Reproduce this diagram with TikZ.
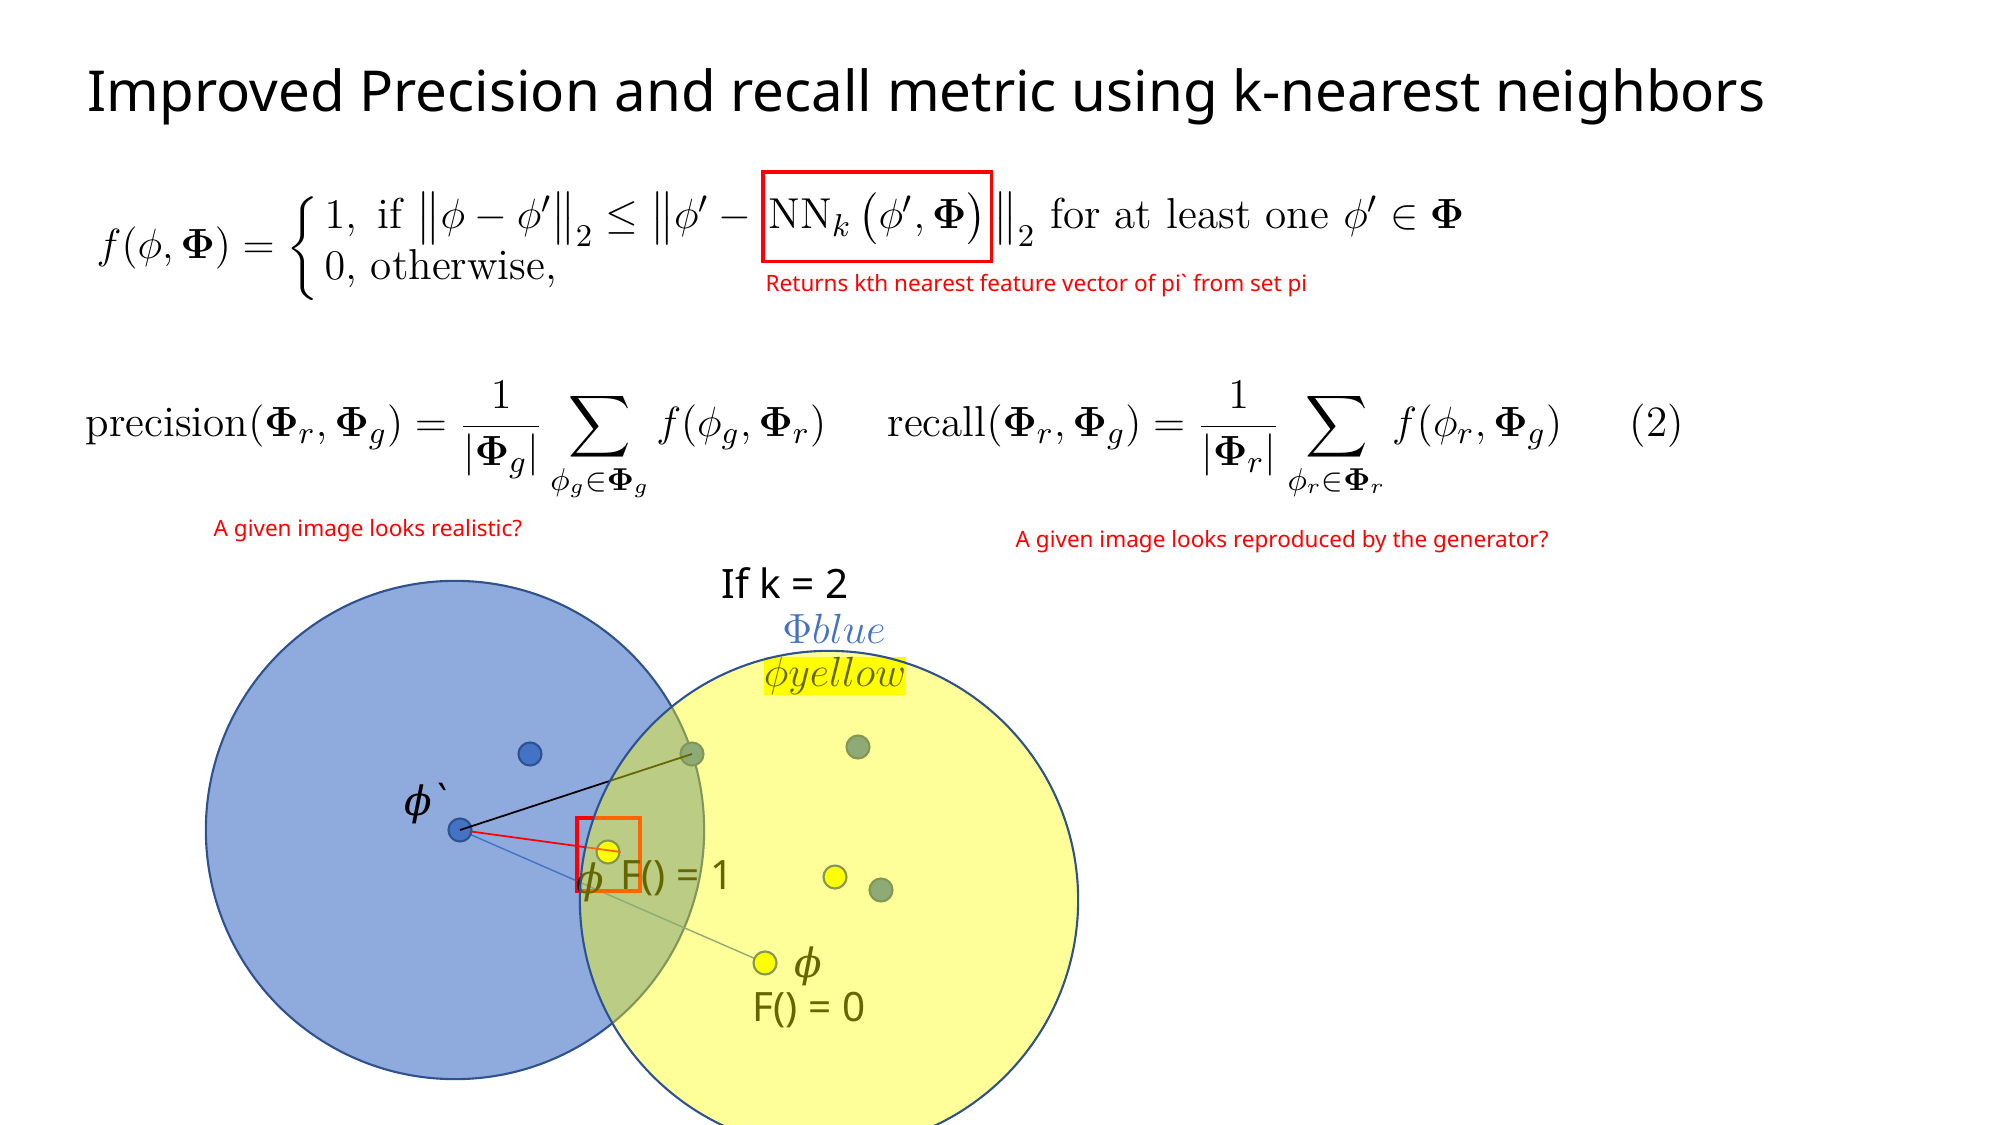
\documentclass[tikz,border=0pt]{standalone}
\usepackage{amsmath,amssymb}
\usepackage{fontspec}
\newfontfamily\gothic{Noto Sans}
\newfontfamily\greekit{DejaVu Serif}
\usetikzlibrary{positioning,calc}

\definecolor{ppblue}{HTML}{8FAADC}
\definecolor{dotblue}{HTML}{4472C4}
\definecolor{rimblue}{HTML}{2F528F}
\definecolor{hlyellow}{HTML}{FFFF00}

\begin{document}
\begin{tikzpicture}[
    x=0.01cm, y=-0.01cm,
    eq/.style={inner sep=0pt, font=\fontsize{12.3}{15}\selectfont},
    note/.style={inner sep=0pt, text=red, font=\gothic\fontsize{6.4}{8}\selectfont},
    lbl/.style={inner sep=0pt, font=\gothic\fontsize{11.5}{14}\selectfont},
    sym/.style={inner sep=0pt, font=\greekit\itshape\fontsize{11.5}{14}\selectfont},
    pt/.style={circle, draw=rimblue, line width=0.6pt, minimum size=0.23cm, inner sep=0pt},
    bluept/.style={pt, fill=dotblue},
    yelpt/.style={pt, fill=hlyellow}
]
\useasboundingbox (0,0) rectangle (2000,1125);
\clip (0,0) rectangle (2000,1125);

% title
\node[anchor=base west, inner sep=0pt, font=\gothic\fontsize{16.05}{20}\selectfont] (title) at (87,112) {Improved Precision and recall metric using k-nearest neighbors};

% f(phi,Phi) with the NN_k part boxed
\node[eq, anchor=base west] (flhs) at (96,259) {$f(\phi,\boldsymbol{\Phi})=\left\{\vrule height 17pt depth 10pt width 0pt\right.$};
\node[eq, anchor=base west] (row1a) at ($(flhs.base east)+(0,-30)$) {$1,\ \text{if}\ \bigl\|\phi-\phi'\bigr\|_2\le\bigl\|\phi'-{}$};
\node[eq, anchor=base west, draw=red, line width=1pt, inner xsep=1.5pt, inner ysep=3.2pt, text height=13pt, text depth=6pt] (nnk) at (row1a.base east) {$\mathrm{NN}_k\,\bigl(\phi',\boldsymbol{\Phi}\bigr)$};
\node[eq, anchor=base west] (row1b) at (nnk.base east) {$\bigr\|_2$\ for at least one $\phi'\in\boldsymbol{\Phi}$};
\node[eq, anchor=base west] (row2) at ($(row1a.base west)+(0,51)$) {$0,$ otherwise,};
\node[note, anchor=west] (nnnote) at (765,286) {Returns kth nearest feature vector of pi\textasciigrave{} from set pi};

% precision and recall
\node[eq, anchor=base west] (prec) at (85,437) {$\displaystyle \mathrm{precision}(\boldsymbol{\Phi}_r,\boldsymbol{\Phi}_g)=\frac{1}{|\boldsymbol{\Phi}_g|}\sum_{\phi_g\in\boldsymbol{\Phi}_g} f(\phi_g,\boldsymbol{\Phi}_r)$};
\node[eq, anchor=base west] (rec) at ($(prec.base east)+(60,0)$) {$\displaystyle \mathrm{recall}(\boldsymbol{\Phi}_r,\boldsymbol{\Phi}_g)=\frac{1}{|\boldsymbol{\Phi}_r|}\sum_{\phi_r\in\boldsymbol{\Phi}_r} f(\phi_r,\boldsymbol{\Phi}_g)$};
\node[eq, anchor=base west] (eqno) at ($(rec.base east)+(66,0)$) {(2)};
\node[note, anchor=west] (precnote) at (213,531) {A given image looks realistic?};
\node[note, anchor=west] (recnote) at (1015,542) {A given image looks reproduced by the generator?};

% real set
\filldraw[fill=ppblue, draw=rimblue, line width=0.6pt] (455,830) circle[radius=2.49cm];

\coordinate (phip) at (460,830);
\coordinate (b1) at (530,754);
\coordinate (g1) at (692,754);
\coordinate (g2) at (858,747);
\coordinate (g3) at (881,890);
\coordinate (y1) at (608,852);
\coordinate (y2) at (835,877);
\coordinate (y3) at (765,963);

\draw[dotblue, line width=0.4pt] (phip) -- (y3);
\node[bluept] (b1dot) at (b1) {};
\node[bluept] (g1dot) at (g1) {};
\node[bluept] (g2dot) at (g2) {};
\node[bluept] (g3dot) at (g3) {};
\node[yelpt] (y1dot) at (y1) {};
\node[yelpt] (y2dot) at (y2) {};
\node[yelpt] (y3dot) at (y3) {};
\draw[red, line width=0.5pt] (phip) -- (y1dot.east);
\node[bluept] (phipdot) at (phip) {};
\draw[black, line width=0.5pt] (phipdot.center) -- (g1dot.center);

\node[draw=red, line width=0.9pt, minimum width=0.63cm, minimum height=0.73cm, inner sep=0pt] (hitbox) at (608.5,854.5) {};

% labels
\node[sym] (phiplbl) at (428,804) {ϕ\textasciigrave};
\node[lbl] (kval) at (785,583) {If k = 2};
\node[inner sep=0pt, font=\fontsize{11.5}{13}\selectfont, text=dotblue] (phiblue) at (834,629) {$\Phi blue$};
\node[inner sep=0pt, font=\fontsize{11.5}{13}\selectfont, fill=hlyellow, minimum width=1.36cm, minimum height=0.37cm] (phiyellow) at (835,676) {$\phi yellow$};
\node[sym] (phiA) at (590,882) {ϕ};
\node[lbl] (fone) at (677,878) {F() = 1};
\node[sym] (phiB) at (808,966) {ϕ};
\node[lbl] (fzero) at (809,1010) {F() = 0};

% generated set, laid over the rest
\filldraw[fill=hlyellow, fill opacity=0.4, draw=rimblue, line width=0.6pt] (829,900) circle[radius=2.49cm];
\end{tikzpicture}
\end{document}
